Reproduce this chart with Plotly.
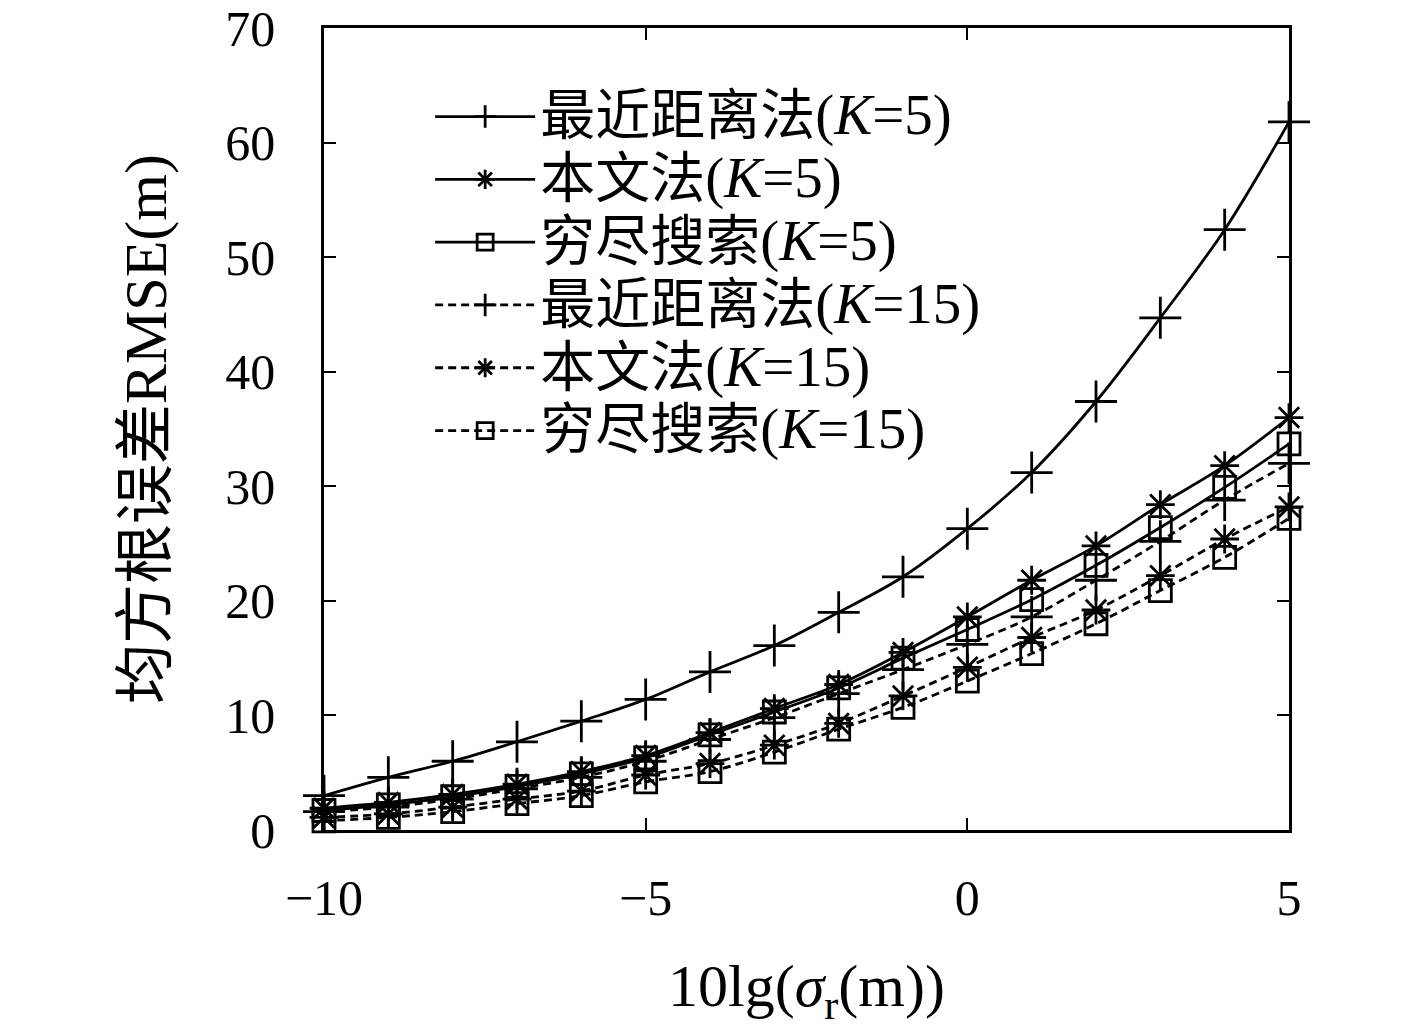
import plotly.graph_objects as go

# x axis: 10lg(sigma_r), dB
x_vals = [-10, -9, -8, -7, -6, -5, -4, -3, -2, -1, 0, 1, 2, 3, 4, 5]

# RMSE (m)
nn_k5 = [3.0, 4.6, 6.0, 7.7, 9.5, 11.4, 13.8, 16.1, 19.0, 22.1, 26.3, 31.2, 37.4, 44.7, 52.4, 61.8]
prop_k5 = [1.9, 2.4, 3.1, 4.0, 5.1, 6.5, 8.5, 10.6, 12.7, 15.5, 18.6, 21.8, 24.8, 28.4, 31.8, 36.0]
exh_k5 = [1.7, 2.2, 2.9, 3.8, 4.9, 6.3, 8.3, 10.3, 12.4, 15.0, 17.5, 20.1, 23.1, 26.4, 29.9, 33.7]
nn_k15 = [1.6, 2.0, 2.7, 3.6, 4.6, 6.0, 7.9, 9.8, 11.9, 14.0, 16.2, 18.6, 21.8, 25.2, 28.8, 32.0]
prop_k15 = [1.1, 1.4, 2.0, 2.7, 3.4, 4.8, 5.8, 7.4, 9.3, 11.7, 14.2, 16.8, 19.2, 22.2, 25.4, 28.2]
exh_k15 = [0.8, 1.1, 1.6, 2.3, 3.0, 4.2, 5.1, 6.8, 8.8, 10.7, 13.0, 15.4, 18.0, 20.9, 23.8, 27.2]

y_ticks = [0, 10, 20, 30, 40, 50, 60, 70]
x_ticks = [-10, -5, 0, 5]
x_ticktext = ["\u221210", "\u22125", "0", "5"]

methods = ["最近距离法", "本文法", "穷尽搜索", "最近距离法", "本文法", "穷尽搜索"]
k_vals = [5, 5, 5, 15, 15, 15]

FONT = "Liberation Serif, Noto Sans CJK SC, serif"


def legend_name(method, k):
    # bigger glyphs than the base legend size so the rows stay tight
    return ('<span style="font-size:55px">%s</span>'
            '<span style="font-size:57px">(<i>K</i>=%d)</span>' % (method, k))


fig = go.Figure()

styles = [
    (nn_k5, "cross-thin-open", 30, "solid"),
    (prop_k5, "asterisk-open", 24, "solid"),
    (exh_k5, "square-open", 22, "solid"),
    (nn_k15, "cross-thin-open", 30, "8px,5px"),
    (prop_k15, "asterisk-open", 24, "8px,5px"),
    (exh_k15, "square-open", 22, "8px,5px"),
]

for method, k, (y, sym, size, dash) in zip(methods, k_vals, styles):
    fig.add_trace(go.Scatter(
        x=x_vals, y=y, name=legend_name(method, k), mode="lines+markers",
        line=dict(color="black", width=2.8, dash=dash, shape="spline"),
        marker=dict(symbol=sym, size=size, color="black",
                    line=dict(color="black", width=2.8)),
        cliponaxis=False,
    ))

axis_common = dict(
    showline=True, linecolor="black", linewidth=2.5, mirror="ticks",
    ticks="inside", ticklen=12, tickwidth=2, tickcolor="black",
    showgrid=False, zeroline=False, automargin=False,
    ticklabeloverflow="allow",
    tickfont=dict(family=FONT, size=50, color="black"),
)

fig.update_xaxes(
    range=[-10, 5], tickvals=x_ticks, ticktext=x_ticktext,
    ticklabelstandoff=22,
    title=dict(text="10lg(<i>σ</i><sub>r</sub>(m))", font=dict(family=FONT, size=60, color="black"),
               standoff=40),
    **axis_common,
)
fig.update_yaxes(
    range=[0, 70], tickvals=y_ticks, ticklabelstandoff=36,
    title=dict(text="均方根误差RMSE(m)", font=dict(family=FONT, size=60, color="black"),
               standoff=40),
    **axis_common,
)

fig.update_layout(
    width=1417, height=1028,
    margin=dict(l=316, r=136, t=20, b=206),
    paper_bgcolor="white", plot_bgcolor="white",
    font=dict(family=FONT, color="black"),
    legend=dict(
        x=0.11, y=0.935, xanchor="left", yanchor="top",
        bgcolor="rgba(0,0,0,0)", borderwidth=0,
        font=dict(family=FONT, size=46, color="black"),
        itemwidth=100, tracegroupgap=0,
    ),
)

fig.write_html("out.html")
